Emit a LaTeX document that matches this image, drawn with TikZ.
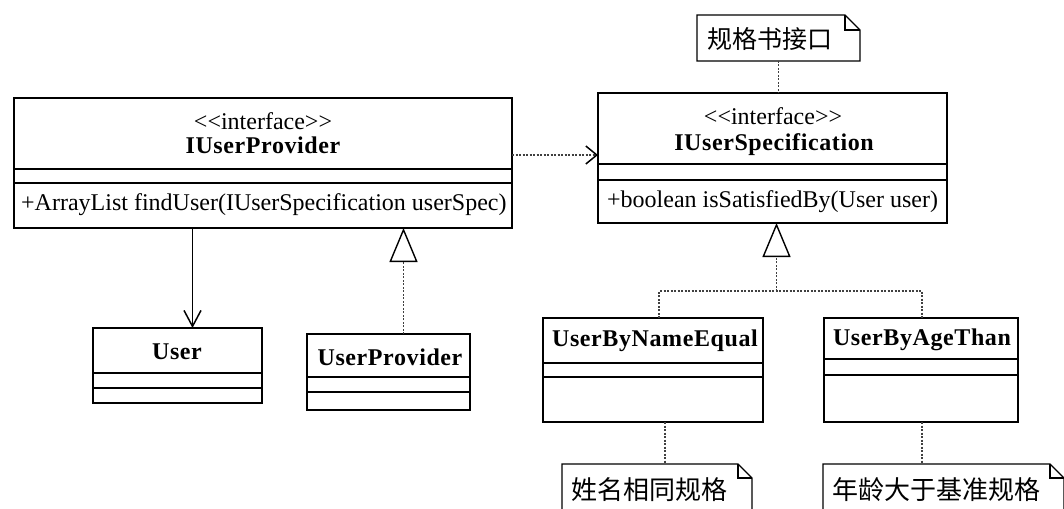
\documentclass[tikz,border=0pt]{standalone}
\usepackage{fontspec}
\setmainfont{Liberation Serif}
\newfontfamily\namefont{Liberation Serif}[LetterSpace=2.5]
\newfontfamily\cjk{Noto Sans CJK SC}
\usetikzlibrary{arrows.meta,calc}
\tikzset{
  cls/.style={draw, line width=1.6pt, anchor=north west, inner sep=0pt, outer sep=0pt},
  sep/.style={line width=1.4pt},
  txt/.style={inner sep=0pt, font=\fontsize{24}{26}\selectfont},
  nm/.style={inner sep=0pt, font=\namefont\bfseries\fontsize{24}{26}\selectfont},
  cjktxt/.style={inner sep=0pt, anchor=west, font=\cjk\fontsize{25}{27}\selectfont},
  notebox/.style={anchor=north west, inner sep=0pt, outer sep=0pt},
  noteline/.style={line width=1.3pt},
  dotl/.style={line width=1.1pt, black!75, dash pattern=on 2pt off 1.5pt},
  dep/.style={dotl, -{Straight Barb[length=11pt,width=18pt,line width=1.5pt,black]}},
  assoc/.style={line width=1.6pt, -{Straight Barb[length=16pt,width=17pt,line width=1.5pt]}},
  real/.style={dotl, -{Triangle[open,length=34pt,width=28pt,line width=1.4pt,black]}},
}
\newcommand{\drawnote}[2]{% #1 node name, #2 fold size
  \draw[noteline] (#1.south west) -- (#1.north west) -- ($(#1.north east)+(-#2,0)$) -- ($(#1.north east)+(0,#2)$) -- (#1.south east) -- cycle;
  \draw[noteline] ($(#1.north east)+(-#2,0)$) -- ($(#1.north east)+(-#2,#2)$) -- ($(#1.north east)+(0,#2)$);
}
\begin{document}
\begin{tikzpicture}[x=1pt,y=-1pt]
\useasboundingbox (0,0) rectangle (1064,508);
\clip (0,0) rectangle (1064,508);
\fill[white] (0,0) rectangle (1064,508);

% IUserProvider
\node[cls, minimum width=498pt, minimum height=130pt] (ip) at (14,98) {};
\draw[sep] ($(ip.north west)+(0,71)$) -- ($(ip.north east)+(0,71)$);
\draw[sep] ($(ip.north west)+(0,85)$) -- ($(ip.north east)+(0,85)$);
\node[txt] (ipst) at (263,121) {<\kern0pt<interface>\kern0pt>};
\node[nm] (ipn) at (263,145) {IUserProvider};
\node[txt, anchor=west] (ipm) at (21,205) {+ArrayList findUser(IUserSpecification userSpec)};

% IUserSpecification
\node[cls, minimum width=349pt, minimum height=130pt] (is) at (598,93) {};
\draw[sep] ($(is.north west)+(0,71)$) -- ($(is.north east)+(0,71)$);
\draw[sep] ($(is.north west)+(0,87)$) -- ($(is.north east)+(0,87)$);
\node[txt] (isst) at (773,116) {<\kern0pt<interface>\kern0pt>};
\node[nm] (isn) at (774,145) {IUserSpecification};
\node[txt, anchor=west] (ism) at (607,202) {+boolean isSatisfiedBy(User user)};

% User
\node[cls, minimum width=169pt, minimum height=75pt] (us) at (93,328) {};
\draw[sep] ($(us.north west)+(0,45)$) -- ($(us.north east)+(0,45)$);
\draw[sep] ($(us.north west)+(0,60)$) -- ($(us.north east)+(0,60)$);
\node[nm] (usn) at (177,352) {User};

% UserProvider
\node[cls, minimum width=163pt, minimum height=76pt] (up) at (307,334) {};
\draw[sep] ($(up.north west)+(0,43)$) -- ($(up.north east)+(0,43)$);
\draw[sep] ($(up.north west)+(0,58)$) -- ($(up.north east)+(0,58)$);
\node[nm] (upn) at (390,357) {UserProvider};

% UserByNameEqual
\node[cls, minimum width=220pt, minimum height=104pt] (un) at (543,318) {};
\draw[sep] ($(un.north west)+(0,45)$) -- ($(un.north east)+(0,45)$);
\draw[sep] ($(un.north west)+(0,59)$) -- ($(un.north east)+(0,59)$);
\node[nm] (unn) at (655,341) {UserByNameEqual};

% UserByAgeThan
\node[cls, minimum width=194pt, minimum height=104pt] (ua) at (824,318) {};
\draw[sep] ($(ua.north west)+(0,41)$) -- ($(ua.north east)+(0,41)$);
\draw[sep] ($(ua.north west)+(0,57)$) -- ($(ua.north east)+(0,57)$);
\node[nm] (uan) at (922,340) {UserByAgeThan};

% Notes
\node[notebox, minimum width=163pt, minimum height=46pt] (n1) at (697,15) {};
\drawnote{n1}{15}
\node[cjktxt] (n1t) at (707,39) {规格书接口};

\node[notebox, minimum width=190pt, minimum height=70pt] (n2) at (562,464) {};
\drawnote{n2}{14}
\node[cjktxt, font=\cjk\fontsize{26}{28}\selectfont] (n2t) at (571,490) {姓名相同规格};

\node[notebox, minimum width=241pt, minimum height=70pt] (n3) at (823,464) {};
\drawnote{n3}{14}
\node[cjktxt, font=\cjk\fontsize{26}{28}\selectfont] (n3t) at (832,490) {年龄大于基准规格};

% Connectors
\coordinate (d1) at ($(ip.east)+(0,-8)$);
\draw[dep] (d1) -- (d1 -| is.west);

\coordinate (a1) at ($(us.north)+(15,0)$);
\draw[assoc] (a1 |- ip.south) -- (a1);

\coordinate (r1) at ($(up.north)+(15,0)$);
\draw[real] (r1) -- (r1 |- ip.south);

\coordinate (t0) at ($(is.south)+(4,0)$);
\coordinate (jn) at ($(t0)+(0,68)$);
\coordinate (b1) at ($(un.north)+(6,0)$);
\coordinate (b2) at ($(ua.north)+(1,0)$);
\draw[dotl] (b1) -- (b1 |- jn) -- (b2 |- jn) -- (b2);
\draw[real] (jn) -- (t0);

\draw[dotl] (n1.south) -- (n1.south |- is.north);
\coordinate (c2) at ($(un.south)+(12,0)$);
\draw[dotl] (c2) -- (c2 |- n2.north);
\coordinate (c3) at ($(ua.south)+(1,0)$);
\draw[dotl] (c3) -- (c3 |- n3.north);
\end{tikzpicture}
\end{document}
